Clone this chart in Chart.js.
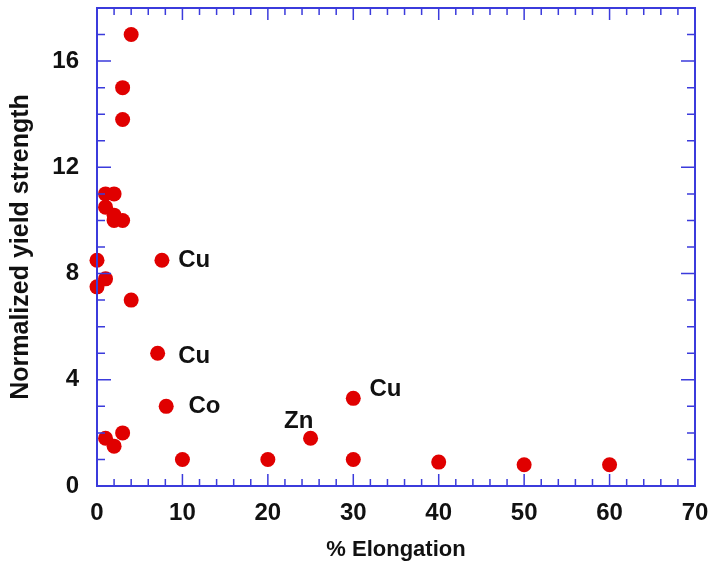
<!DOCTYPE html>
<html>
<head>
<meta charset="utf-8">
<script src="https://cdn.jsdelivr.net/npm/chart.js@4"></script>
<style>
  html, body { margin: 0; padding: 0; background: #ffffff; }
  #wrap { width: 718px; height: 567px; }
</style>
</head>
<body>
<div id="wrap"><canvas id="yieldChart" width="718" height="567"></canvas></div>
<script>
// data
const elongation = [4, 3, 3, 1, 2, 1, 2, 2, 3, 0, 1, 0, 4, 7.6, 7.1, 8.1, 1, 2, 3, 10, 20, 25, 30, 30, 40, 50, 60];
const strength = [17, 15, 13.8, 11, 11, 10.5, 10.2, 10, 10, 8.5, 7.8, 7.5, 7, 8.5, 5, 3, 1.8, 1.5, 2, 1, 1, 1.8, 3.3, 1, 0.9, 0.8, 0.8];

const labelText = ['Cu', 'Cu', 'Co', 'Zn', 'Cu'];
const labelX = [9.5, 9.5, 10.7, 21.9, 31.9];
const labelY = [8.5, 4.9, 3.0, 2.45, 3.65];

const xTicks = [0, 10, 20, 30, 40, 50, 60, 70];
const yTicks = [0, 4, 8, 12, 16];

const axisBlue = '#3b3bdc';
const fontFamily = '"Liberation Sans", Arial, sans-serif';

// inward ticks on all four sides + frame, and element labels
const framePlugin = {
    id: 'frame',
    afterDraw(chart) {
        const ctx = chart.ctx;
        const a = chart.chartArea;
        const xs = chart.scales.x;
        const ys = chart.scales.y;
        ctx.save();
        ctx.strokeStyle = axisBlue;
        ctx.lineWidth = 2;
        ctx.strokeRect(a.left, a.top, a.right - a.left, a.bottom - a.top);
        ctx.lineWidth = 1.5;
        ctx.beginPath();
        for (let v = 0; v <= 70; v += 2) {
            const px = xs.getPixelForValue(v);
            const len = v % 10 === 0 ? 12 : 7;
            ctx.moveTo(px, a.bottom); ctx.lineTo(px, a.bottom - len);
            ctx.moveTo(px, a.top); ctx.lineTo(px, a.top + len);
        }
        for (let v = 0; v <= 18; v += 1) {
            const py = ys.getPixelForValue(v);
            const len = v % 4 === 0 ? 14 : 8;
            ctx.moveTo(a.left, py); ctx.lineTo(a.left + len, py);
            ctx.moveTo(a.right, py); ctx.lineTo(a.right - len, py);
        }
        ctx.stroke();

        ctx.fillStyle = '#111111';
        ctx.font = 'bold 24px ' + fontFamily;
        ctx.textAlign = 'left';
        ctx.textBaseline = 'middle';
        labelText.forEach((t, i) => {
            ctx.fillText(t, xs.getPixelForValue(labelX[i]), ys.getPixelForValue(labelY[i]));
        });
        ctx.restore();
    }
};

const points = elongation.map((x, i) => ({ x: x, y: strength[i] }));

new Chart(document.getElementById('yieldChart'), {
    type: 'scatter',
    data: {
        datasets: [{
            data: points,
            backgroundColor: '#e00000',
            borderWidth: 0,
            pointRadius: 7.5,
            pointHoverRadius: 7.5,
            clip: false
        }]
    },
    options: {
        responsive: false,
        animation: false,
        layout: { padding: { top: 8, right: 23, left: 0, bottom: 0 } },
        plugins: {
            legend: { display: false },
            tooltip: { enabled: false }
        },
        scales: {
            x: {
                type: 'linear',
                min: 0,
                max: 70,
                afterBuildTicks: s => { s.ticks = xTicks.map(v => ({ value: v })); },
                afterFit: s => { s.height = 81; s.paddingLeft = 0; s.paddingRight = 0; },
                grid: { display: false },
                border: { display: false },
                ticks: {
                    padding: 5,
                    color: '#111111',
                    font: { family: fontFamily, size: 24, weight: 'bold' }
                },
                title: {
                    display: true,
                    text: '% Elongation',
                    color: '#111111',
                    padding: { top: 4, bottom: 4 },
                    font: { family: fontFamily, size: 22, weight: 'bold' }
                }
            },
            y: {
                type: 'linear',
                min: 0,
                max: 18,
                afterBuildTicks: s => { s.ticks = yTicks.map(v => ({ value: v })); },
                afterFit: s => { s.width = 97; s.paddingTop = 0; s.paddingBottom = 0; },
                grid: { display: false },
                border: { display: false },
                ticks: {
                    padding: 10,
                    color: '#111111',
                    font: { family: fontFamily, size: 24, weight: 'bold' }
                },
                title: {
                    display: true,
                    text: 'Normalized yield strength',
                    color: '#111111',
                    padding: { top: 6, bottom: 0 },
                    font: { family: fontFamily, size: 25, weight: 'bold' }
                }
            }
        }
    },
    plugins: [framePlugin]
});
</script>
</body>
</html>
